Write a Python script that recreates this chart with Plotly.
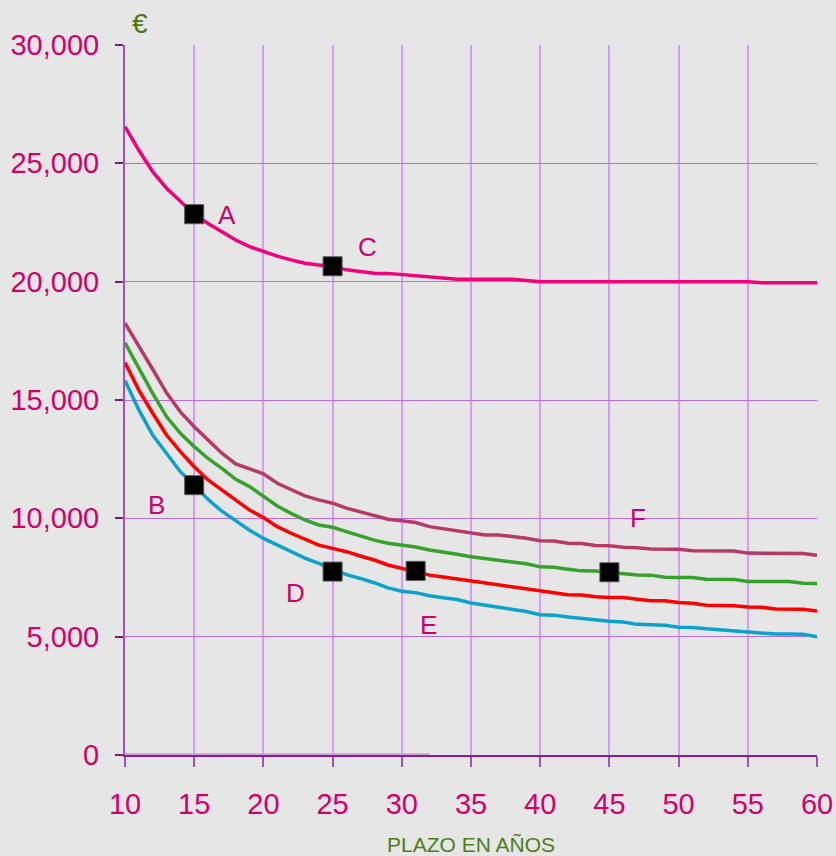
import plotly.graph_objects as go

years = list(range(10, 61))

serie_a = [26550, 25550, 24650, 23950, 23400, 22850, 22460, 22110, 21760, 21480,
           21270, 21080, 20920, 20780, 20700, 20650, 20500, 20420, 20360, 20350,
           20300, 20250, 20200, 20150, 20100, 20100, 20100, 20100, 20100, 20050,
           20000, 20000, 20000, 20000, 20000, 20000, 20000, 20000, 20000, 20000,
           20000, 20000, 20000, 20000, 20000, 20000, 19950, 19950, 19950, 19950, 19950]

serie_f = [18250, 17300, 16300, 15300, 14500, 13870, 13300, 12750, 12300, 12100,
           11880, 11480, 11200, 10950, 10780, 10640, 10430, 10280, 10100, 9960,
           9900, 9820, 9650, 9560, 9480, 9370, 9300, 9300, 9230, 9160,
           9050, 9040, 8950, 8940, 8850, 8840, 8780, 8760, 8700, 8690,
           8690, 8630, 8620, 8620, 8620, 8530, 8520, 8520, 8520, 8510, 8440]

serie_g = [17420, 16340, 15280, 14300, 13590, 13030, 12530, 12110, 11650, 11340,
           10920, 10520, 10210, 9930, 9720, 9620, 9440, 9250, 9080, 8950,
           8880, 8790, 8660, 8580, 8480, 8380, 8310, 8240, 8170, 8080,
           7950, 7930, 7850, 7780, 7770, 7710, 7650, 7610, 7600, 7510,
           7500, 7500, 7430, 7420, 7420, 7330, 7330, 7330, 7330, 7260, 7250]

serie_r = [16580, 15420, 14440, 13520, 12820, 12180, 11620, 11200, 10780, 10350,
           10030, 9650, 9370, 9110, 8870, 8730, 8590, 8410, 8240, 8030,
           7890, 7750, 7600, 7520, 7440, 7330, 7250, 7170, 7100, 7040,
           6930, 6860, 6770, 6760, 6690, 6660, 6650, 6580, 6520, 6520,
           6440, 6410, 6330, 6320, 6310, 6250, 6240, 6170, 6160, 6160, 6080]

serie_c = [15820, 14580, 13520, 12750, 11970, 11400, 10800, 10300, 9900, 9500,
           9150, 8870, 8600, 8320, 8100, 7850, 7620, 7460, 7280, 7060,
           6920, 6860, 6730, 6640, 6570, 6420, 6330, 6240, 6150, 6060,
           5930, 5910, 5830, 5760, 5700, 5650, 5620, 5520, 5500, 5480,
           5400, 5390, 5330, 5290, 5250, 5220, 5160, 5110, 5110, 5100, 5000]

zero_x = list(range(10, 33))
zero_y = [0] * len(zero_x)

point_x = [15, 15, 25, 25, 31, 45]
point_y = [22850, 11400, 20650, 7750, 7780, 7720]

labels = ["A", "B", "C", "D", "E", "F"]
label_x = [17.4, 12.3, 27.5, 22.3, 31.9, 47.1]
label_y = [22800, 10550, 21450, 6850, 5500, 10000]

x_ticks = list(range(10, 61, 5))
y_ticks = list(range(0, 30001, 5000))

FONT = "Liberation Sans, Arial, sans-serif"
PINK = "#d1006b"

fig = go.Figure()
fig.add_trace(go.Scatter(x=zero_x, y=zero_y, mode="lines",
                         line=dict(color="#c9a2d4", width=3.5), hoverinfo="skip",
                         cliponaxis=False))
for ys, col in [(serie_a, "#f2007c"), (serie_f, "#b63a66"), (serie_g, "#36a22c"),
                (serie_r, "#ff0000"), (serie_c, "#0aa3cc")]:
    fig.add_trace(go.Scatter(x=years, y=ys, mode="lines",
                             line=dict(color=col, width=3.5), cliponaxis=False))
fig.add_trace(go.Scatter(x=point_x, y=point_y, mode="markers",
                         marker=dict(symbol="square", size=19, color="black",
                                     line=dict(color="#555555", width=1))))
for t, lx, ly in zip(labels, label_x, label_y):
    fig.add_annotation(x=lx, y=ly, text=t, showarrow=False,
                       font=dict(family=FONT, size=26, color=PINK))

fig.add_annotation(xref="paper", yref="paper", x=0.0, y=1.0, xshift=15, yshift=22,
                   xanchor="center", yanchor="middle",
                   text="€", showarrow=False,
                   font=dict(family=FONT, size=28, color="#3f7a10"))

fig.update_layout(
    width=836, height=856,
    margin=dict(l=125, r=19, t=45, b=101, autoexpand=False),
    paper_bgcolor="#e6e6e6", plot_bgcolor="#e6e6e6",
    showlegend=False,
    font=dict(family=FONT),
)
fig.update_xaxes(range=[10, 60], tickvals=x_ticks, showgrid=True, automargin=False,
                 gridcolor="#d69cf6", gridwidth=1.5, zeroline=False,
                 showline=True, linecolor="#8c1a8c", linewidth=1.5,
                 ticks="outside", ticklen=10, tickcolor="#a050c0", tickwidth=1.5,
                 tickfont=dict(family=FONT, size=29, color=PINK),
                 ticklabelstandoff=12,
                 title=dict(text="PLAZO EN AÑOS", standoff=26,
                            font=dict(family=FONT, size=21, color="#4d7f17")))
fig.update_yaxes(range=[0, 30000], tickvals=y_ticks, tickformat=",d", showgrid=True,
                 automargin=False,
                 gridcolor="#b56ee6", gridwidth=1.2, zeroline=False,
                 showline=True, linecolor="#a34ec4", linewidth=2,
                 ticks="outside", ticklen=8, tickcolor="#7a1a7a", tickwidth=1.5,
                 tickfont=dict(family=FONT, size=29, color=PINK),
                 ticklabelstandoff=10)

fig.write_html(
    "out.html",
    config={"displayModeBar": False},
    post_script="document.body.style.margin='0';document.body.style.overflow='hidden';",
)
